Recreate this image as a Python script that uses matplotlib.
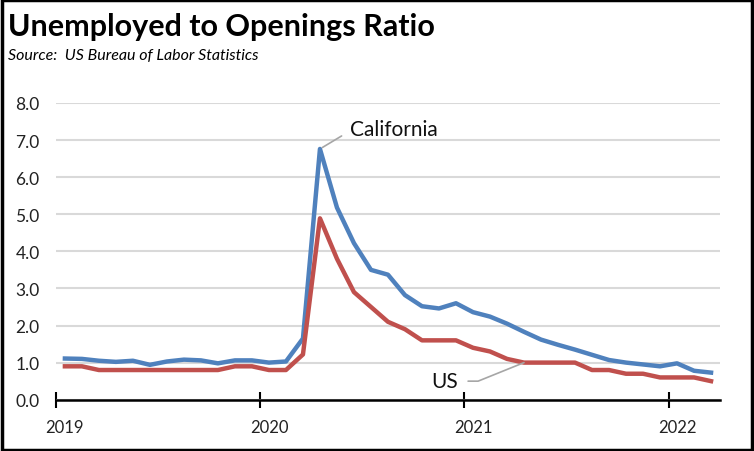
import matplotlib
matplotlib.use('Agg')
import matplotlib.pyplot as plt
from matplotlib.patches import Rectangle

# monthly, Jan 2019 - Mar 2022
years = ['2019', '2020', '2021', '2022']
california = [1.11, 1.10, 1.05, 1.02, 1.05, 0.94, 1.03, 1.08, 1.06, 0.98, 1.06, 1.06,
              1.00, 1.03, 1.65, 6.76, 5.18, 4.22, 3.50, 3.37, 2.82, 2.52, 2.46, 2.60,
              2.36, 2.24, 2.05, 1.83, 1.62, 1.48, 1.35, 1.21, 1.07, 1.00, 0.95, 0.90,
              0.98, 0.78, 0.73]
us = [0.90, 0.90, 0.80, 0.80, 0.80, 0.80, 0.80, 0.80, 0.80, 0.80, 0.90, 0.90,
      0.80, 0.80, 1.22, 4.89, 3.80, 2.90, 2.50, 2.10, 1.90, 1.60, 1.60, 1.60,
      1.40, 1.30, 1.10, 1.00, 1.00, 1.00, 1.00, 0.80, 0.80, 0.70, 0.70, 0.60,
      0.60, 0.60, 0.50]

plt.rcParams['font.family'] = ['Lato', 'DejaVu Sans']

fig = plt.figure(figsize=(7.54, 4.52), dpi=100)
ax = fig.add_axes([0.0748, 0.1135, 0.8795, 0.6565])

x = list(range(len(california)))
ax.plot(x, california, color='#4F81BD', lw=3.2, solid_joinstyle='round', zorder=3)
ax.plot(x, us, color='#C0504D', lw=3.2, solid_joinstyle='round', zorder=3)

ax.set_xlim(-0.5, len(x) - 0.5)
ax.set_ylim(0, 8)
ax.set_yticks(range(0, 9))
ax.set_yticklabels([f'{v:.1f}' for v in range(0, 9)], fontsize=12.5, color='#222222')
ax.tick_params(axis='y', length=0, pad=12)
ax.yaxis.grid(True, color='#D9D9D9', lw=1.5)
ax.set_axisbelow(True)

# ticks at year boundaries, labels under January
ax.set_xticks([-0.5 + 12 * i for i in range(len(years))])
ax.set_xticklabels([])
ax.set_xticks([12 * i for i in range(len(years))], minor=True)
ax.set_xticklabels(years, minor=True, fontsize=12, color='#222222')
ax.tick_params(axis='x', which='major', direction='inout', length=11, width=1.5, color='black')
ax.tick_params(axis='x', which='minor', length=0, pad=14)

for s in ['top', 'right', 'left']:
    ax.spines[s].set_visible(False)
ax.spines['bottom'].set_linewidth(1.8)
ax.spines['bottom'].set_zorder(4)

# series labels with leader lines
ax.annotate('California', xy=(15, california[15]), xytext=(16.74, 7.3),
            fontsize=15, va='center', ha='left', color='#111111',
            arrowprops=dict(arrowstyle='-', color='#A6A6A6', lw=1.2, relpos=(0, 0.25),
                            connectionstyle='angle,angleA=0,angleB=31,rad=0',
                            shrinkA=4, shrinkB=2))
ax.annotate('US', xy=(27, us[27]), xytext=(23.14, 0.5),
            fontsize=15, va='center', ha='right', color='#111111',
            arrowprops=dict(arrowstyle='-', color='#A6A6A6', lw=1.2, relpos=(1, 0.5),
                            connectionstyle='angle,angleA=0,angleB=22,rad=0',
                            shrinkA=5, shrinkB=0))

fig.text(0.011, 0.94, 'Unemployed to Openings Ratio', fontsize=22, fontweight='bold', va='center')
fig.text(0.011, 0.877, 'Source:  US Bureau of Labor Statistics', fontsize=11.5, style='italic', va='center')

fig.patches.append(Rectangle((0.002, 0.003), 0.995, 0.994, transform=fig.transFigure,
                             fill=False, ec='black', lw=2.5))

fig.savefig('out.png', dpi=100)
